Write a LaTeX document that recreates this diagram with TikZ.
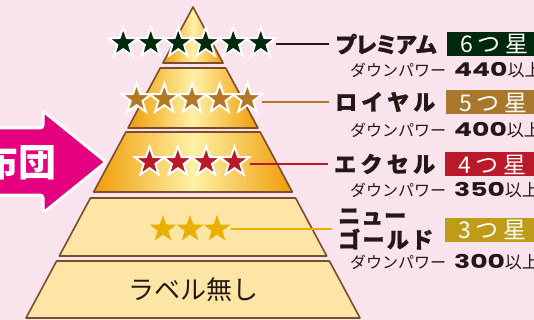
\documentclass[tikz,border=0pt]{standalone}
\usepackage{fontspec}
\usetikzlibrary{shapes.geometric}
\setmainfont{Noto Sans CJK JP}
\newfontfamily\heavy{Noto Sans CJK JP}[BoldFeatures={FakeBold=1.2}]
\newfontfamily\numfont{Poppins}

\definecolor{bg}{HTML}{F9E4EE}
\definecolor{edge}{HTML}{7D4B2D}
\definecolor{gold1}{HTML}{EF9C05}
\definecolor{gold2}{HTML}{FFF1A6}
\definecolor{cream}{HTML}{FDE6A5}
\definecolor{ink}{HTML}{231815}
\definecolor{pink}{HTML}{E4007F}
\definecolor{six}{HTML}{00280A}
\definecolor{five}{HTML}{B47823}
\definecolor{fivebox}{HTML}{AA782D}
\definecolor{four}{HTML}{B91928}
\definecolor{three}{HTML}{EBAF00}
\definecolor{threebox}{HTML}{BE9B19}

\newcommand\spaced[2]{\makebox[#1][s]{#2}}
\newcommand\power[1]{\spaced{96pt}{ダ\hss ウ\hss ン\hss パ\hss ワ\hss ー}\hspace{8pt}%
  {\numfont\bfseries\fontsize{19}{19}\selectfont\scalebox{1.4}[1]{#1}}{\fontsize{17}{17}\selectfont 以上}}

\begin{document}
\begin{tikzpicture}[x=1pt,y=-1pt,
  tier/.style={draw=edge,line width=1.6pt,line join=round},
  starmark/.style={star,star points=5,star point ratio=2.5,minimum size=31pt,inner sep=0pt,draw=white,line width=2pt},
  link/.style={line width=1.6pt,shorten <=5pt,shorten >=6pt},
  rank/.style={anchor=west,inner sep=0pt,text=ink,align=left,font=\fontsize{22}{24}\selectfont\heavy\bfseries},
  power/.style={anchor=west,inner sep=0pt,text=ink,font=\fontsize{16}{16}\selectfont},
  badge/.style={anchor=west,minimum height=24pt,inner xsep=13pt,inner ysep=0pt,text=white,font=\fontsize{23}{23}\selectfont}]

\clip (0,0) rectangle (534,320);
\fill[bg] (0,0) rectangle (534,320);

% pyramid
\foreach \t/\b in {7/63,68/128,132/192}
  \shadedraw[tier,left color=gold1,right color=gold1,middle color=gold2]
    ({193-0.537*(\t-7)},\t) -- ({193+0.537*(\t-7)},\t) -- ({193+0.537*(\b-7)},\b) -- ({193-0.537*(\b-7)},\b) -- cycle;

\foreach \t/\b in {198/256,261/318}
  \filldraw[tier,fill=cream]
    ({193-0.537*(\t-7)},\t) -- ({193+0.537*(\t-7)},\t) -- ({193+0.537*(\b-7)},\b) -- ({193-0.537*(\b-7)},\b) -- cycle;

\node[text=ink,font=\fontsize{26}{26}\selectfont] (none) at (193,290) {ラベル無し};

% arrow
\filldraw[fill=pink,draw=white,line width=3pt,rounded corners=3pt]
  (-10,128) -- (43,128) -- (43,111) -- (106,162) -- (43,213) -- (43,195) -- (-10,195) -- cycle;
\node[anchor=east,inner sep=0pt,text=white,font=\fontsize{38}{38}\selectfont\bfseries] (futon) at (57,162) {布団};

% stars
\foreach \i in {1,...,6}
  \node[starmark,fill=six] (a\i) at ({192+27.5*(\i-3.5)},43) {};
\foreach \i in {1,...,5}
  \node[starmark,fill=five] (b\i) at ({192+27.7*(\i-3)},99) {};
\foreach \i in {1,...,4}
  \node[starmark,fill=four] (c\i) at ({192+28.3*(\i-2.5)},162) {};
\foreach \i in {1,...,3}
  \node[starmark,fill=three,draw=none,minimum size=28pt] (d\i) at ({190+27*(\i-2)},229) {};

% names
\node[rank] (n1) at (335,44) {\spaced{102pt}{プ\hss レ\hss ミ\hss ア\hss ム}};
\node[rank] (n2) at (335,102) {\spaced{100pt}{ロ\hss イ\hss ヤ\hss ル}};
\node[rank] (n3) at (334,164) {\spaced{101pt}{エ\hss ク\hss セ\hss ル}};
\node[rank] (n4) at (338,229) {\spaced{68pt}{ニ\hss ュ\hss ー}\\\spaced{95pt}{ゴ\hss ー\hss ル\hss ド}};

\draw[link,draw=ink] (a6.east |- n1.west) -- (n1.west);
\draw[link,draw=five] (b5.east |- n2.west) -- (n2.west);
\draw[link,draw=four] (c4.east |- n3.west) -- (n3.west);
\draw[link,draw=three] (d3.east |- n4.west) -- (n4.west);

% labels
\node[badge,fill=six] (k1) at (447,44) {\spaced{68pt}{6\hfil つ\hfil 星}};
\node[badge,fill=fivebox] (k2) at (446,102.5) {\spaced{68pt}{5\hfil つ\hfil 星}};
\node[badge,fill=four] (k3) at (445,164.5) {\spaced{68pt}{4\hfil つ\hfil 星}};
\node[badge,fill=threebox] (k4) at (445,229.5) {\spaced{68pt}{3\hfil つ\hfil 星}};

\node[power] (p1) at (350,70) {\power{440}};
\node[power] (p2) at (350,130) {\power{400}};
\node[power] (p3) at (350,190) {\power{350}};
\node[power] (p4) at (350,262) {\power{300}};

\end{tikzpicture}
\end{document}
